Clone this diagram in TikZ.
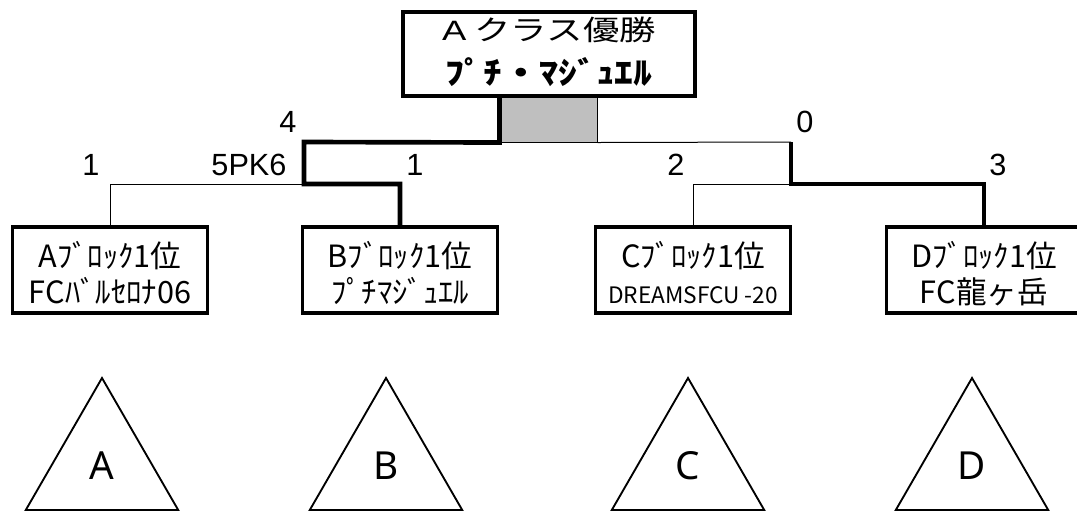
\documentclass[tikz,border=0pt]{standalone}
\usepackage{fontspec}
\usepackage{graphicx}
\setmainfont{Liberation Sans}
\newfontfamily\jpfont{Noto Sans CJK JP}
\newfontfamily\trifont{Noto Sans}
\usetikzlibrary{shapes.geometric}
\newcommand{\lineup}[1]{\rule{0pt}{#1}} % fixes the height of a first line
\newcommand{\linedown}[1]{\rule[-#1]{0pt}{#1}} % fixes the depth of a last line
\tikzset{
    box/.style={draw, line width=2.5pt, inner sep=0pt},
    champ/.style={style=box, minimum width=219pt, minimum height=63pt, align=center, font=\jpfont\fontsize{21}{33}\selectfont}, % winner on top
    team/.style={style=box, minimum width=146.25pt, minimum height=64.5pt, align=center, font=\jpfont\fontsize{23}{27}\selectfont}, % block winners
    tie/.style={draw, line width=0.75pt, fill=gray!50, minimum width=72.75pt, minimum height=33.75pt, inner sep=0pt},
    win/.style={line width=3.5pt}, % winning path
    lose/.style={line width=0.75pt}, % losing path
    score/.style={anchor=base, inner sep=0pt, font=\fontsize{23}{26}\selectfont},
    block/.style={draw, line width=1.4pt, regular polygon, regular polygon sides=3, minimum size=132pt, inner sep=0pt, font=\trifont\fontsize{29}{34}\selectfont}
}
\begin{document}
\begin{tikzpicture}[x=0.75pt, y=-0.75pt]
        \useasboundingbox (0,0) rectangle (1077,512);

        \node[tie] (mid) at (548.5,119.5) {};
        \node[champ] (cup) at (549,54)
        {\lineup{21pt}\scalebox{1.3}[1]{{\rmfamily A} クラス優勝}\\
         \scalebox{1.2}[1]{\fontsize{23.5}{33}\selectfont\bfseries ﾌﾟﾁ・ﾏｼﾞｭｴﾙ}\linedown{9pt}};

        \node[team] (tA) at (110,270) {\lineup{27pt}Aﾌﾞﾛｯｸ1位\\FCﾊﾞﾙｾﾛﾅ06\linedown{4.5pt}};
        \node[team] (tB) at (400,270) {\lineup{27pt}Bﾌﾞﾛｯｸ1位\\ﾌﾟﾁﾏｼﾞｭｴﾙ\linedown{4.5pt}};
        \node[team] (tC) at (693,270) {\lineup{27pt}Cﾌﾞﾛｯｸ1位\\{\fontsize{17}{27}\selectfont DREAMSFCU -20}\linedown{4.5pt}};
        \node[team] (tD) at (984,270) {\lineup{27pt}Dﾌﾞﾛｯｸ1位\\FC龍ヶ岳\linedown{4.5pt}};

        \coordinate (sf1) at (304,142);
        \coordinate (sf1b) at (304,184);
        \coordinate (sf2) at (791,142);
        \coordinate (sf2b) at (791,184);

        \draw[lose] (sf1b) -| (tA.north);
        \draw[win] (mid.north west) -- (mid.south west) -- (sf1) -- (sf1b) -| (tB.north);
        \draw[lose] (mid.south east) -- (sf2);
        \draw[lose] (sf2b) -| (tC.north);
        \draw[win] (sf2) -- (sf2b) -| (tD.north);

        \node[score] (s4) at (288,132) {4};
        \node[score] (spk) at (249,175) {5PK6};
        \node[score] (sA) at (91,175) {1};
        \node[score] (sB) at (415,175) {1};
        \node[score] (s0) at (805,132) {0};
        \node[score] (sC) at (676,175) {2};
        \node[score] (sD) at (998,175) {3};

        \node[block] (bA) at (102,466) {A};
        \node[block] (bB) at (386,466) {B};
        \node[block] (bC) at (688,466) {C};
        \node[block] (bD) at (972,466) {D};
      \end{tikzpicture}
\end{document}
